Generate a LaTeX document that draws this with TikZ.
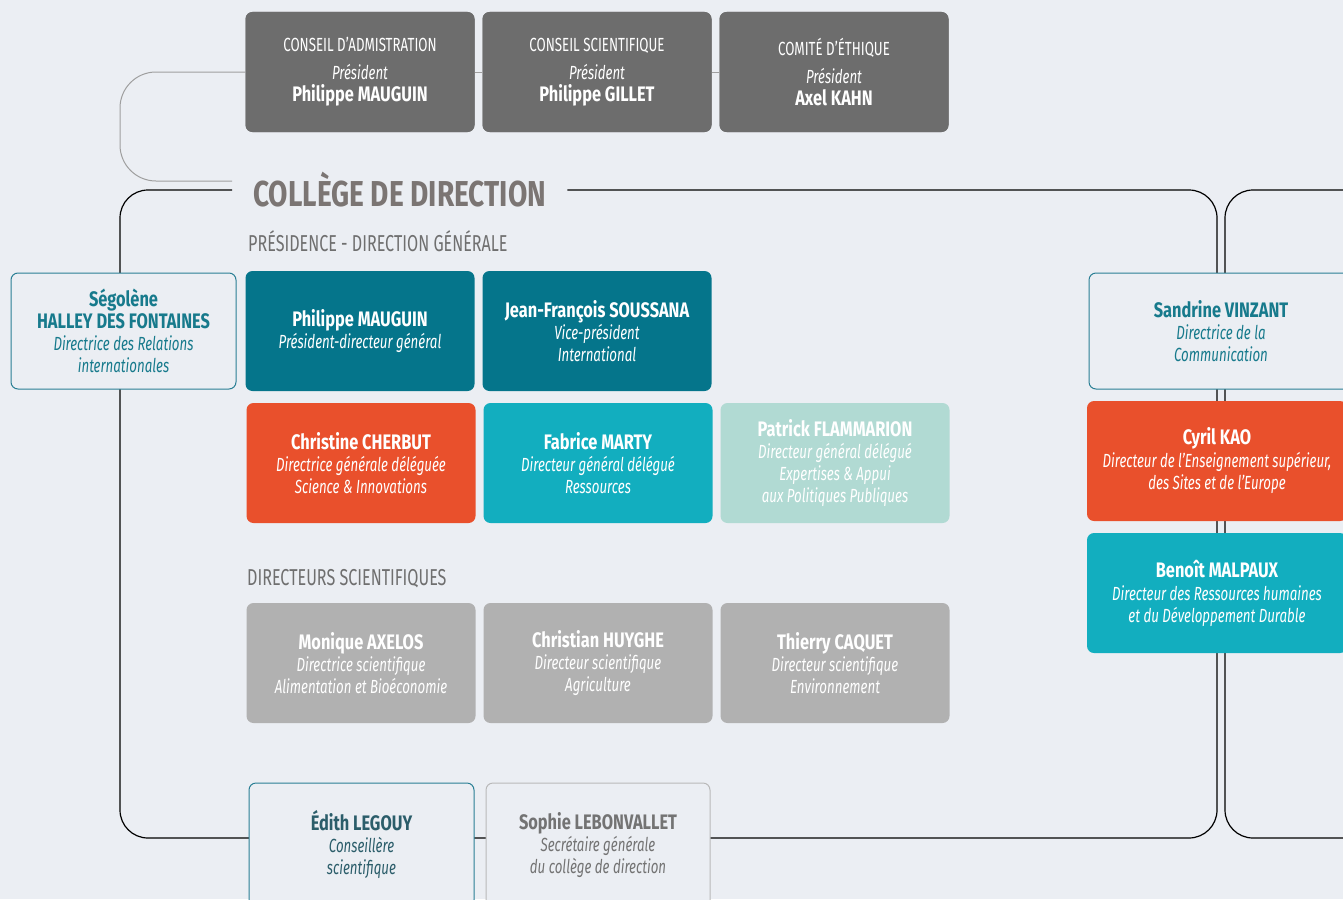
\documentclass[tikz,border=0pt]{standalone}
\usepackage{fontspec}
\setmainfont{Fira Sans}[FakeStretch=0.7, BoldFeatures={FakeStretch=0.78}]
\definecolor{fond}{HTML}{EBEEF3}
\definecolor{conseil}{HTML}{6D6D6D}
\definecolor{petrole}{HTML}{05758B}
\definecolor{corail}{HTML}{E9502C}
\definecolor{turquoise}{HTML}{12AEBF}
\definecolor{menthe}{HTML}{B1DAD3}
\definecolor{gris}{HTML}{B1B1B1}
\definecolor{titre}{HTML}{7B7573}
\definecolor{rubrique}{HTML}{6F6F6F}
\definecolor{bordpetrole}{HTML}{2A7F95}
\definecolor{textepetrole}{HTML}{177A8C}
\definecolor{texteconseil}{HTML}{2B5D6A}
\definecolor{textegris}{HTML}{737373}
\newcommand{\nom}[1]{{\fontsize{21}{22}\selectfont\bfseries #1}}
\tikzset{
  x=1pt, y=-1pt,
  boite/.style={rounded corners=7pt, minimum width=229pt, minimum height=120pt,
    align=center, inner sep=0pt, text=white, font=\fontsize{19}{22}\selectfont},
  instance/.style={boite, fill=conseil},
  direction/.style={boite, fill=petrole},
  science/.style={boite, fill=corail},
  ressources/.style={boite, fill=turquoise},
  expertise/.style={boite, fill=menthe},
  scientifique/.style={boite, fill=gris},
  contour/.style={boite, fill=fond, draw=bordpetrole, line width=1pt, text=textepetrole},
  rubriquetxt/.style={anchor=west, inner sep=0pt, text=rubrique, font=\fontsize{23}{26}\selectfont},
  cadre/.style={draw=black, line width=1.2pt, rounded corners=28pt},
  liengris/.style={draw=gray!75, line width=1pt},
}
\begin{document}
\begin{tikzpicture}
  \useasboundingbox[fill=fond] (0,0) rectangle (1343,899);
  \node[instance] (ca) at (360,72) {CONSEIL D’ADMISTRATION\\[6pt]\textit{Président}\\\nom{Philippe MAUGUIN}};
  \node[instance] (cs) at (597,72) {CONSEIL SCIENTIFIQUE\\[6pt]\textit{Président}\\\nom{Philippe GILLET}};
  \node[instance] (ce) at (834,72) {COMITÉ D’ÉTHIQUE\\[6pt]\textit{Président}\\\nom{Axel KAHN}};
  \node[anchor=west, inner xsep=21pt, text=titre, font=\fontsize{36}{40}\selectfont\bfseries] (college) at (232,190) {COLLÈGE DE DIRECTION};
  \draw[liengris, rounded corners=36pt] (ca.west) -- (120,72) -- (120,181) -- (college.west |- 0,181);
  \draw[liengris] (ca) -- (cs);
  \draw[liengris] (cs) -- (ce);
  \draw[cadre] (college.west) -- (120,190) -- (120,838) -- (1217,838) -- (1217,190) -- (college.east);
  \draw[cadre] (1343,190) -- (1225,190) -- (1225,838) -- (1343,838);
  \node[instance] at (360,72) {CONSEIL D’ADMISTRATION\\[6pt]\textit{Président}\\\nom{Philippe MAUGUIN}};
  \node[instance] at (597,72) {CONSEIL SCIENTIFIQUE\\[6pt]\textit{Président}\\\nom{Philippe GILLET}};
  \node[instance] at (834,72) {COMITÉ D’ÉTHIQUE\\[6pt]\textit{Président}\\\nom{Axel KAHN}};
  \node[rubriquetxt] (presidence) at (248,241) {PRÉSIDENCE - DIRECTION GÉNÉRALE};
  \node[direction] (pdg) at (360,331) {\nom{Philippe MAUGUIN}\\\textit{Président-directeur général}};
  \node[direction] (vp) at (597,331) {\nom{Jean-François SOUSSANA}\\\textit{Vice-président}\\\textit{International}};
  \node[science] (dgsi) at (361,463) {\nom{Christine CHERBUT}\\\textit{Directrice générale déléguée}\\\textit{Science \& Innovations}};
  \node[ressources] (dgr) at (598,463) {\nom{Fabrice MARTY}\\\textit{Directeur général délégué}\\\textit{Ressources}};
  \node[expertise] (dge) at (835,463) {\nom{Patrick FLAMMARION}\\\textit{Directeur général délégué}\\\textit{Expertises \& Appui}\\\textit{aux Politiques Publiques}};
  \node[rubriquetxt] (directeurs) at (247,579) {DIRECTEURS SCIENTIFIQUES};
  \node[scientifique] (alim) at (361,663) {\nom{Monique AXELOS}\\\textit{Directrice scientifique}\\\textit{Alimentation et Bioéconomie}};
  \node[scientifique] (agri) at (598,663) {\nom{Christian HUYGHE}\\\textit{Directeur scientifique}\\\textit{Agriculture}};
  \node[scientifique] (envi) at (835,663) {\nom{Thierry CAQUET}\\\textit{Directeur scientifique}\\\textit{Environnement}};
  \node[contour, minimum width=225pt, minimum height=116pt] (dri) at (123.5,331) {\nom{Ségolène}\\\nom{HALLEY DES FONTAINES}\\\textit{Directrice des Relations}\\\textit{internationales}};
  \node[contour, minimum width=225pt, minimum height=124pt, text=texteconseil] (conseillere) at (361.5,845) {\nom{Édith LEGOUY}\\\textit{Conseillère}\\\textit{scientifique}};
  \node[contour, minimum width=224pt, minimum height=124pt, draw=gray!55, text=textegris] (sg) at (598,845) {\nom{Sophie LEBONVALLET}\\\textit{Secrétaire générale}\\\textit{du collège de direction}};
  \node[contour, minimum width=264pt, minimum height=116pt] (com) at (1221,331) {\nom{Sandrine VINZANT}\\\textit{Directrice de la}\\\textit{Communication}};
  \node[science, minimum width=260pt] (desse) at (1217,461) {\nom{Cyril KAO}\\[1pt]\textit{Directeur de l’Enseignement supérieur,}\\\textit{des Sites et de l’Europe}};
  \node[ressources, minimum width=260pt] (drh) at (1217,593) {\nom{Benoît MALPAUX}\\[1pt]\textit{Directeur des Ressources humaines}\\\textit{et du Développement Durable}};
\end{tikzpicture}
\end{document}
